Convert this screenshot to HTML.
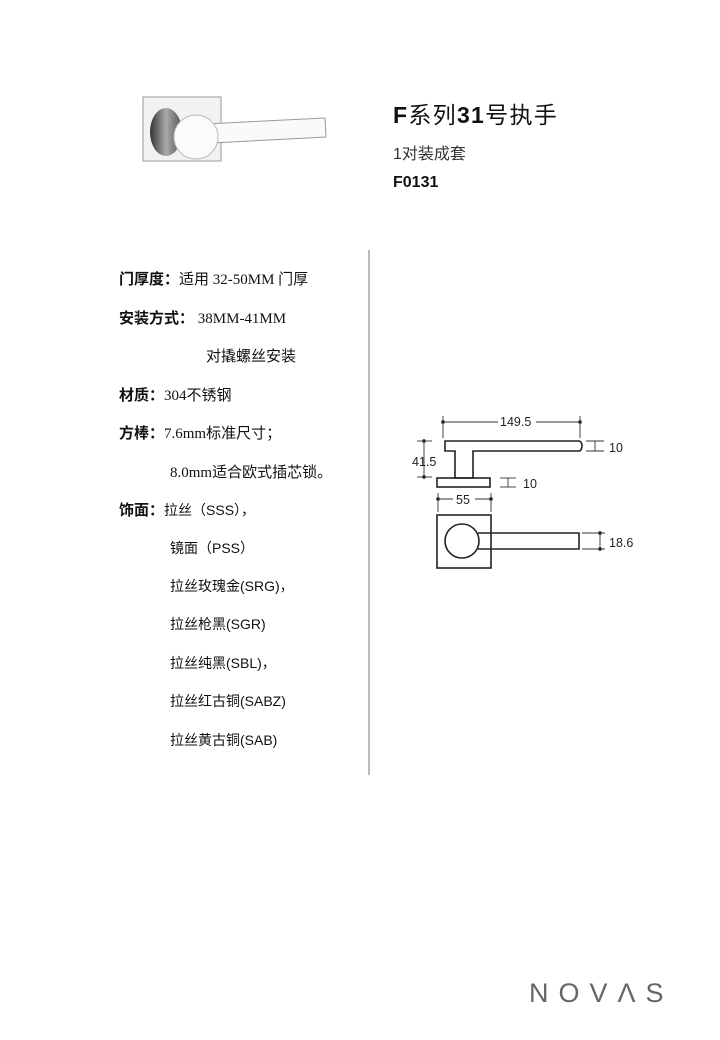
<!DOCTYPE html>
<html><head><meta charset="utf-8"><style>
body{margin:0;width:720px;height:1040px;background:#fff;position:relative;overflow:hidden;font-family:"Liberation Sans","Noto Sans CJK SC",sans-serif;color:#111}
.a{position:absolute;white-space:nowrap}
.t{font-size:15px;font-family:"Liberation Serif","Noto Sans CJK SC",serif}
.t b{font-family:"Liberation Sans","Noto Sans CJK SC",sans-serif}
.s{font-size:14px;font-family:"Liberation Sans","Noto Sans CJK SC",sans-serif}
.s b{font-size:15px}
</style></head><body>
<svg class="a" style="left:0;top:0" width="720" height="1040">
 <defs><linearGradient id="g" x1="0" x2="1"><stop offset="0" stop-color="#333"/><stop offset=".5" stop-color="#aaa"/><stop offset="1" stop-color="#555"/></linearGradient></defs>
 <rect x="143" y="97" width="78" height="64" fill="#f2f2f2" stroke="#999"/>
 <ellipse cx="166" cy="132" rx="16" ry="24" fill="url(#g)"/>
 <path d="M205 124 L325 118 L326 137 L212 143 Z" fill="#fafafa" stroke="#999"/>
 <circle cx="196" cy="137" r="22" fill="#fbfbfb" stroke="#bbb"/>
 <line x1="369" y1="250" x2="369" y2="775" stroke="#777" stroke-width="1"/>
 <g stroke="#222" stroke-width="1.6" fill="none">
  <path d="M445 441 H579 a3 5 0 0 1 0 10 H473 V478 H455 V451 H445 Z"/>
  <rect x="437" y="478" width="53" height="9"/>
  <rect x="437" y="515" width="54" height="53"/>
  <path d="M478 533 H579 V549 H478"/>
  <circle cx="462" cy="541" r="17"/>
 </g>
 <g stroke="#333" stroke-width="0.9" fill="#222">
  <line x1="443" y1="422" x2="580" y2="422"/><line x1="443" y1="416" x2="443" y2="438"/><line x1="580" y1="416" x2="580" y2="438"/>
  <circle cx="443" cy="422" r="1.4"/><circle cx="580" cy="422" r="1.4"/>
  <line x1="424" y1="441" x2="424" y2="477"/><line x1="417" y1="441" x2="432" y2="441"/><line x1="417" y1="477" x2="432" y2="477"/>
  <circle cx="424" cy="441" r="1.4"/><circle cx="424" cy="477" r="1.4"/>
  <line x1="595" y1="441" x2="595" y2="451"/><line x1="586" y1="441" x2="604" y2="441"/><line x1="586" y1="451" x2="604" y2="451"/>
  <line x1="508" y1="478" x2="508" y2="487"/><line x1="500" y1="478" x2="516" y2="478"/><line x1="500" y1="487" x2="516" y2="487"/>
  <line x1="438" y1="499" x2="491" y2="499"/><line x1="438" y1="493" x2="438" y2="512"/><line x1="491" y1="493" x2="491" y2="512"/>
  <circle cx="438" cy="499" r="1.4"/><circle cx="491" cy="499" r="1.4"/>
  <line x1="600" y1="533" x2="600" y2="549"/><line x1="582" y1="533" x2="605" y2="533"/><line x1="582" y1="549" x2="605" y2="549"/>
  <circle cx="600" cy="533" r="1.4"/><circle cx="600" cy="549" r="1.4"/>
 </g>
 <g font-family="Liberation Sans" font-size="12.5" fill="#222">
  <rect x="498" y="414" width="38" height="14" fill="#fff"/>
  <text x="500" y="426">149.5</text>
  <text x="412" y="466">41.5</text>
  <text x="609" y="452">10</text>
  <text x="523" y="488">10</text>
  <rect x="453" y="492" width="22" height="14" fill="#fff"/>
  <text x="456" y="504">55</text>
  <text x="609" y="547">18.6</text>
 </g>
</svg>
<div class="a" style="left:393px;top:96px;font-size:23px;font-weight:bold;letter-spacing:1.3px">F<span style="font-weight:normal">系列</span>31<span style="font-weight:normal">号执手</span></div>
<div class="a" style="left:393px;top:140px;font-size:16px;color:#333">1对装成套</div>
<div class="a" style="left:393px;top:174px;font-size:16px;font-weight:bold">F0131</div>

<div class="a t" style="left:119px;top:268px"><b>门厚度：</b>适用 32-50MM 门厚</div>
<div class="a t" style="left:119px;top:307px"><b>安装方式：</b> 38MM-41MM</div>
<div class="a t" style="left:206px;top:345px">对撬螺丝安装</div>
<div class="a t" style="left:119px;top:384px"><b>材质：</b>304不锈钢</div>
<div class="a t" style="left:119px;top:422px"><b>方棒：</b>7.6mm标准尺寸；</div>
<div class="a t" style="left:170px;top:461px">8.0mm适合欧式插芯锁。</div>
<div class="a s" style="left:119px;top:499px"><b>饰面：</b>拉丝（SSS），</div>
<div class="a s" style="left:170px;top:538px">镜面（PSS）</div>
<div class="a s" style="left:170px;top:576px">拉丝玫瑰金(SRG)，</div>
<div class="a s" style="left:170px;top:614px">拉丝枪黑(SGR)</div>
<div class="a s" style="left:170px;top:653px">拉丝纯黑(SBL)，</div>
<div class="a s" style="left:170px;top:691px">拉丝红古铜(SABZ)</div>
<div class="a s" style="left:170px;top:730px">拉丝黄古铜(SAB)</div>

<div class="a" style="left:529px;top:978px;font-size:27px;letter-spacing:10px;color:#666">NOV&Lambda;S</div>
</body></html>
